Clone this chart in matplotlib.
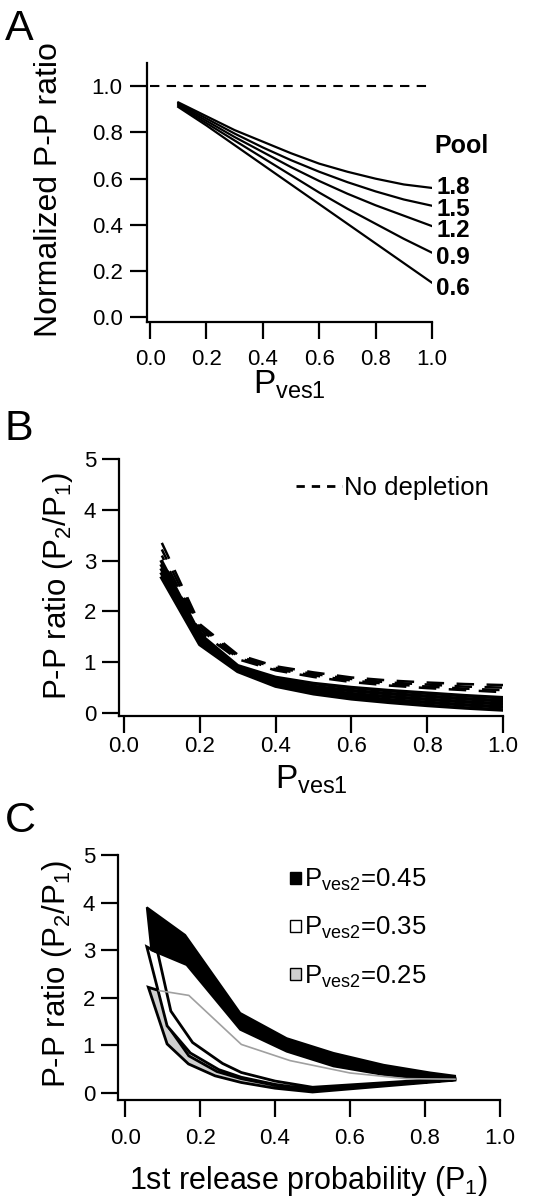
import matplotlib
matplotlib.use("Agg")
import matplotlib.pyplot as plt
from matplotlib.patches import Patch
from matplotlib.lines import Line2D

plt.rcParams['font.family'] = ['Liberation Sans', 'DejaVu Sans']
plt.rcParams['mathtext.default'] = 'regular'

# ---- Panel A data: normalized P-P ratio vs Pves1 for several pool sizes
pves1 = [0.1, 0.2, 0.3, 0.4, 0.5, 0.6, 0.7, 0.8, 0.9, 1.0]
pool_labels = ['1.8', '1.5', '1.2', '0.9', '0.6']
pool_18 = [0.93, 0.87, 0.81, 0.76, 0.71, 0.665, 0.63, 0.60, 0.575, 0.56]
pool_15 = [0.925, 0.86, 0.795, 0.735, 0.68, 0.63, 0.585, 0.545, 0.51, 0.483]
pool_12 = [0.92, 0.85, 0.78, 0.715, 0.65, 0.59, 0.535, 0.485, 0.44, 0.395]
pool_09 = [0.915, 0.84, 0.765, 0.69, 0.615, 0.54, 0.47, 0.405, 0.34, 0.28]
pool_06 = [0.91, 0.83, 0.745, 0.66, 0.575, 0.49, 0.405, 0.32, 0.235, 0.15]
label_offsets = [0.0, -0.015, -0.02, -0.02, -0.025]

# ---- Panel B data: P-P ratio with depletion (solid) and no depletion (dashed)
dep_1 = [2.98, 1.55, 0.93, 0.70, 0.58, 0.50, 0.44, 0.39, 0.34, 0.30]
dep_2 = [2.90, 1.48, 0.89, 0.65, 0.52, 0.44, 0.38, 0.33, 0.28, 0.24]
dep_3 = [2.82, 1.43, 0.86, 0.61, 0.47, 0.38, 0.32, 0.27, 0.22, 0.18]
dep_4 = [2.74, 1.39, 0.84, 0.57, 0.43, 0.33, 0.26, 0.21, 0.16, 0.12]
dep_5 = [2.66, 1.35, 0.82, 0.53, 0.38, 0.28, 0.21, 0.15, 0.10, 0.06]
nodep_1 = [3.35, 1.75, 1.15, 0.92, 0.80, 0.70, 0.64, 0.60, 0.57, 0.55]
nodep_2 = [3.22, 1.70, 1.12, 0.89, 0.77, 0.67, 0.60, 0.56, 0.52, 0.50]
nodep_3 = [3.10, 1.65, 1.09, 0.86, 0.74, 0.64, 0.57, 0.52, 0.48, 0.45]
nodep_4 = [3.00, 1.60, 1.06, 0.84, 0.71, 0.61, 0.54, 0.49, 0.45, 0.41]

# ---- Panel C data: bands of P-P ratio vs 1st release probability
b45_up_x = [0.058, 0.16, 0.307, 0.431, 0.556, 0.69, 0.813, 0.88]
b45_up_y = [3.9, 3.32, 1.68, 1.15, 0.84, 0.59, 0.43, 0.36]
b45_lo_x = [0.07, 0.164, 0.307, 0.431, 0.556, 0.69, 0.813, 0.88]
b45_lo_y = [3.0, 2.69, 1.33, 0.87, 0.56, 0.38, 0.28, 0.28]

b35_out_x = [0.058, 0.112, 0.174, 0.25, 0.31, 0.40, 0.50, 0.88]
b35_out_y = [3.07, 1.41, 0.84, 0.49, 0.33, 0.18, 0.07, 0.29]
b35_in_x = [0.087, 0.122, 0.18, 0.26, 0.31, 0.40, 0.50, 0.88]
b35_in_y = [2.95, 1.72, 1.06, 0.62, 0.43, 0.25, 0.12, 0.31]

b25_out_x = [0.062, 0.112, 0.169, 0.24, 0.31, 0.40, 0.50, 0.88]
b25_out_y = [2.22, 1.03, 0.61, 0.36, 0.22, 0.10, 0.02, 0.27]
b25_in_x = [0.091, 0.118, 0.170, 0.245, 0.31, 0.40, 0.50, 0.88]
b25_in_y = [2.15, 1.36, 0.78, 0.45, 0.30, 0.16, 0.06, 0.28]

gray_x = [0.091, 0.17, 0.31, 0.44, 0.60, 0.75, 0.88]
gray_y = [2.15, 2.05, 1.02, 0.68, 0.42, 0.30, 0.29]

xticks = [0.0, 0.2, 0.4, 0.6, 0.8, 1.0]


def style(ax, xpad, ypad):
    for s in ['top', 'right']:
        ax.spines[s].set_visible(False)
    for s in ['left', 'bottom']:
        ax.spines[s].set_linewidth(1.6)
    ax.tick_params(direction='out', length=12.5, width=1.6, labelsize=16)
    ax.tick_params(axis='x', pad=xpad)
    ax.tick_params(axis='y', pad=ypad)
    ax.set_xticks(xticks)
    ax.set_xticklabels(['%.1f' % t for t in xticks])


fig = plt.figure(figsize=(5.6, 11.99), dpi=100)

# Panel A
axA = fig.add_axes([0.2625, 0.7314, 0.5089, 0.2160])
axA.axhline(1.0, xmin=0.011, xmax=1.0, color='black', lw=1.5, dashes=(4.5, 3.5))
for ys in [pool_18, pool_15, pool_12, pool_09, pool_06]:
    axA.plot(pves1, ys, color='black', lw=1.6)
for ys, lab, off in zip([pool_18, pool_15, pool_12, pool_09, pool_06], pool_labels, label_offsets):
    axA.text(1.015, ys[-1] + off, lab, fontsize=17.5, fontweight='bold', va='center', ha='left')
axA.text(1.01, 0.743, 'Pool', fontsize=18, fontweight='bold', va='center', ha='left')
axA.set_xlim(-0.011, 1.0)
axA.set_ylim(-0.02, 1.1)
style(axA, 7, 5)
axA.set_yticks([0.0, 0.2, 0.4, 0.6, 0.8, 1.0])
axA.set_yticklabels(['0.0', '0.2', '0.4', '0.6', '0.8', '1.0'])
axA.set_ylabel('Normalized P-P ratio', fontsize=23)
axA.yaxis.set_label_coords(-0.29, 0.51)
axA.set_xlabel('$P_{ves1}$', fontsize=24)
axA.xaxis.set_label_coords(0.5, -0.18)

# Panel B
axB = fig.add_axes([0.2125, 0.4028, 0.6857, 0.2143])
for ys in [dep_1, dep_2, dep_3, dep_4, dep_5]:
    axB.plot(pves1, ys, color='black', lw=2.6)
for i, ys in enumerate([nodep_1, nodep_2, nodep_3, nodep_4]):
    axB.plot(pves1, ys, color='black', lw=1.8, linestyle=(i * 2.5, (7, 5)))
axB.set_xlim(-0.013, 1.0)
axB.set_ylim(-0.06, 5)
style(axB, 2, 4)
axB.set_yticks([0, 1, 2, 3, 4, 5])
axB.set_ylabel('P-P ratio ($P_2$/$P_1$)', fontsize=22.5)
axB.yaxis.set_label_coords(-0.115, 0.506)
axB.set_xlabel('$P_{ves1}$', fontsize=24)
axB.xaxis.set_label_coords(0.5, -0.185)
hB = [Line2D([], [], color='black', lw=2, dashes=(3, 2.5))]
axB.legend(hB, ['No depletion'], loc='center left', bbox_to_anchor=(0.46, 0.887),
           frameon=False, fontsize=18.5, handlelength=1.8, handletextpad=0.1,
           borderaxespad=0, borderpad=0)

# Panel C
axC = fig.add_axes([0.2107, 0.0826, 0.6821, 0.2043])
axC.fill(b25_out_x + b25_in_x[::-1], b25_out_y + b25_in_y[::-1],
         facecolor='#cfcfcf', edgecolor='black', lw=2)
axC.plot(gray_x, gray_y, color='#a0a0a0', lw=1.2)
axC.fill(b35_out_x + b35_in_x[::-1], b35_out_y + b35_in_y[::-1],
         facecolor='white', edgecolor='black', lw=2)
axC.fill(b45_up_x + b45_lo_x[::-1], b45_up_y + b45_lo_y[::-1],
         facecolor='black', edgecolor='black', lw=1.5)
axC.set_xlim(-0.019, 1.0)
axC.set_ylim(-0.147, 5)
style(axC, 8, 4)
axC.set_yticks([0, 1, 2, 3, 4, 5])
axC.set_ylabel('P-P ratio ($P_2$/$P_1$)', fontsize=22.5)
axC.yaxis.set_label_coords(-0.115, 0.514)
axC.set_xlabel('1st release probability ($P_1$)', fontsize=22)
axC.xaxis.set_label_coords(0.5, -0.26)
hC = [Patch(facecolor='black', edgecolor='black', lw=1),
      Patch(facecolor='white', edgecolor='black', lw=1),
      Patch(facecolor='#cfcfcf', edgecolor='black', lw=1)]
axC.legend(hC, ['$P_{ves2}$=0.45', '$P_{ves2}$=0.35', '$P_{ves2}$=0.25'],
           loc='upper left', bbox_to_anchor=(0.45, 0.95), frameon=False,
           fontsize=18.5, handlelength=0.45, handleheight=0.35, handletextpad=0.1,
           labelspacing=0.85, borderaxespad=0, borderpad=0)

# Panel letters
fig.text(0.008, 1 - 40 / 1199, 'A', fontsize=31, va='baseline')
fig.text(0.008, 1 - 440 / 1199, 'B', fontsize=31, va='baseline')
fig.text(0.008, 1 - 832 / 1199, 'C', fontsize=31, va='baseline')

fig.savefig('out.png', dpi=100)
